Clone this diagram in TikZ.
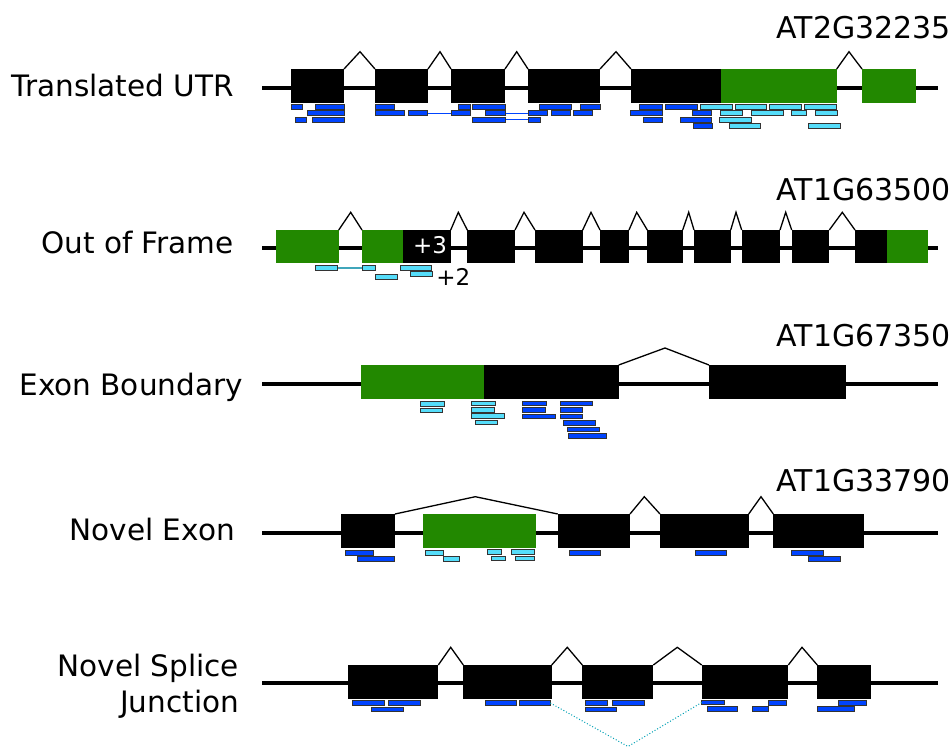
\documentclass[tikz,border=0pt]{standalone}
\usepackage{fontspec}
\setmainfont{DejaVu Sans}
\usepackage{tikz}
\usetikzlibrary{positioning}

\definecolor{cdsgreen}{RGB}{34,136,0}
\definecolor{readblue}{RGB}{0,68,255}
\definecolor{readcyan}{RGB}{85,221,250}
\definecolor{junctionteal}{RGB}{0,160,180}

\begin{document}
\begin{tikzpicture}[x=1pt, y=-1pt,
    backbone/.style={line width=4pt, black},
    exon/.style={fill=black},
    utr/.style={fill=cdsgreen},
    intron/.style={line width=1.3pt, black},
    read/.style={draw=black!80, line width=1pt, fill=readblue},
    lightread/.style={read, fill=readcyan},
    readlink/.style={line width=1.3pt, readblue},
    rowlabel/.style={font=\fontsize{29.5}{36}\selectfont, anchor=base east, inner sep=0pt},
    genename/.style={rowlabel, font=\fontsize{30}{36}\selectfont},
    offset/.style={font=\fontsize{23}{26}\selectfont, inner sep=0pt, anchor=base}
]
\useasboundingbox (0,0) rectangle (951,747);

% labels
\node[rowlabel] (utr) at (234,96.7) {Translated UTR};
\node[rowlabel] (frame) at (234,253) {Out of Frame};
\node[rowlabel] (boundary) at (243,395) {Exon Boundary};
\node[rowlabel] (novelexon) at (235,540) {Novel Exon};
\node[rowlabel] (splice) at (239.3,676.7) {Novel Splice};
\node[rowlabel] (junction) at (239.3,712.7) {Junction};
\node[genename] (g1) at (951,38.3) {AT2G32235};
\node[genename] (g2) at (951,200) {AT1G63500};
\node[genename] (g3) at (951,346) {AT1G67350};
\node[genename] (g4) at (951,491) {AT1G33790};

% backbones
\foreach \y in {88,248,383.5,533,683}
    \draw[backbone] (262,\y) -- (938,\y);

% AT2G32235
\foreach \a/\b in {291/344, 375/428, 451/505, 528/600, 631/720.7}
    \fill[exon] (\a,69) rectangle (\b,103);
\foreach \a/\b in {720.7/836.7, 862/915.7}
    \fill[utr] (\a,69) rectangle (\b,103);
\foreach \a/\m/\b in {344/360/375, 428/440/451, 505/516.7/528, 600/616/631, 836.7/849/862}
    \draw[intron] (\a,69) -- (\m,51.7) -- (\b,69);
\draw[readlink] (427.7,113.2) -- (451.7,113.2);
\draw[readlink] (505,113.2) -- (528.3,113.2);
\draw[readlink] (505,119.5) -- (528.3,119.5);
\foreach \a/\b/\t in {291/302.7/104.3, 315/344.3/104.3, 375/394/104.3, 458.7/470/104.3,
    472.7/505/104.3, 539.3/571.7/104.3, 580.7/600/104.3, 639.3/662.3/104.3, 665/697.7/104.3,
    307.3/344/110.7, 375/404/110.7, 408.3/427.7/110.7, 451.7/470.7/110.7, 485.3/505/110.7,
    528.3/547.3/110.7, 551.3/570.7/110.7, 573.7/592.7/110.7, 630/662.3/110.7, 692.7/711.7/110.7,
    295/306.7/117, 312.3/344/117, 472.7/505/117, 528.3/540/117, 643.3/662.3/117, 680.3/711.7/117,
    693.3/712.3/123.3}
    \draw[read] (\a,\t) rectangle (\b,\t+5);
\foreach \a/\b/\t in {700.3/732.3/104.3, 735/766.7/104.3, 769.3/801/104.3, 804.7/836.7/104.3,
    720.3/742.3/110.7, 751.7/783.3/110.7, 791.3/806.7/110.7, 815/837.3/110.7,
    719.3/751.7/117, 729/760.7/123.3, 808.7/840/123.3}
    \draw[lightread] (\a,\t) rectangle (\b,\t+5);

% AT1G63500
\foreach \a/\b in {403.3/450.7, 467.3/515, 535/582.7, 600/629, 647.3/682.7, 694/730.7,
    741.7/780, 791.7/829.3, 855/887.3}
    \fill[exon] (\a,230) rectangle (\b,263);
\foreach \a/\b in {276/338.7, 362/403.3, 887.3/928.3}
    \fill[utr] (\a,230) rectangle (\b,263);
\foreach \a/\m/\b in {338.7/350.7/362, 450.7/458.3/467.3, 515/524/535, 582.7/591/600,
    629/636.7/647.3, 682.7/688.7/694, 730.7/736/741.7, 780/785.7/791.7, 829.3/842.3/855}
    \draw[intron] (\a,230) -- (\m,212.3) -- (\b,230);
\node[offset, text=white] (plus3) at (430,253.3) {+3};
\draw[readlink, readcyan!75!black] (337.7,268) -- (362.3,268);
\foreach \a/\b/\t in {315.7/337.7/265.7, 362.3/375.7/265.7, 400/431.7/265.7,
    410.7/432.3/271.7, 375.3/397.3/274.7}
    \draw[lightread] (\a,\t) rectangle (\b,\t+4.7);
\node[offset] (plus2) at (453.3,285) {+2};

% AT1G67350
\fill[utr] (361,365) rectangle (484,399);
\foreach \a/\b in {484/618.7, 709/846}
    \fill[exon] (\a,365) rectangle (\b,399);
\draw[intron] (618.7,365) -- (665,348) -- (709,365);
\foreach \a/\b/\t in {420.3/444.7/401.7, 420.3/442.7/408, 471.7/495.7/401, 471.7/494/407.3,
    471.7/504.3/413.7, 475/497.7/420}
    \draw[lightread] (\a,\t) rectangle (\b,\t+4.7);
\foreach \a/\b/\t in {522.7/546.7/401, 522.7/545/407.3, 522.7/555.3/414, 560.7/592.7/401,
    560.7/582.7/407.3, 560.7/582.7/414, 563.7/595.7/420.3, 567.7/599.3/427, 568.3/606.7/433.7}
    \draw[read] (\a,\t) rectangle (\b,\t+4.7);

% AT1G33790
\foreach \a/\b in {341/395, 557.7/630, 660/748.7, 773.3/864}
    \fill[exon] (\a,514) rectangle (\b,548);
\fill[utr] (423,514) rectangle (536,548);
\foreach \a/\m/\b in {395/475.3/557.7, 630/644.3/660, 748.7/761/773.3}
    \draw[intron] (\a,514) -- (\m,496.7) -- (\b,514);
\foreach \a/\b/\t in {345/373.7/550.3, 357.7/394.3/556.3, 569/600.7/550.3, 695/726.7/550.3,
    791.7/823.3/550.3, 808.3/840.3/556.3}
    \draw[read] (\a,\t) rectangle (\b,\t+4.7);
\foreach \a/\b/\t in {425/443.3/550.3, 443.7/459.7/556.3, 487.3/501.3/549.3, 491.7/505/556,
    511.3/534/549.3, 515/534/556}
    \draw[lightread] (\a,\t) rectangle (\b,\t+4.7);

% novel splice junction
\foreach \a/\b in {348.3/438.3, 463.3/551.7, 582.3/653.3, 701.7/788.3, 817.3/870.7}
    \fill[exon] (\a,665) rectangle (\b,699);
\foreach \a/\m/\b in {438.3/450.7/463.3, 551.7/567.3/582.3, 653.3/677.3/701.7, 788.3/802/817.3}
    \draw[intron] (\a,665) -- (\m,647.3) -- (\b,665);
\foreach \a/\b/\t in {352.3/384.3/700.3, 388.3/420.3/700.3, 371.3/403.3/707, 485/516.7/700.3,
    519.3/550.3/700.3, 585/607.3/700.3, 612.7/644/700.3, 585/616.7/707, 701.7/724.3/700,
    707.3/737.7/706.7, 752/768.3/706.7, 768.3/786.7/700.3, 838.3/866.7/700.3, 817.7/854/706.7}
    \draw[read] (\a,\t) rectangle (\b,\t+4.7);
\coordinate (jleft) at (550.3,703);
\coordinate (jdip) at (628,746.5);
\coordinate (jright) at (701.7,702.5);
\draw[junctionteal, dotted, line width=1pt] (jleft) -- (jdip) -- (jright);
\end{tikzpicture}
\end{document}
